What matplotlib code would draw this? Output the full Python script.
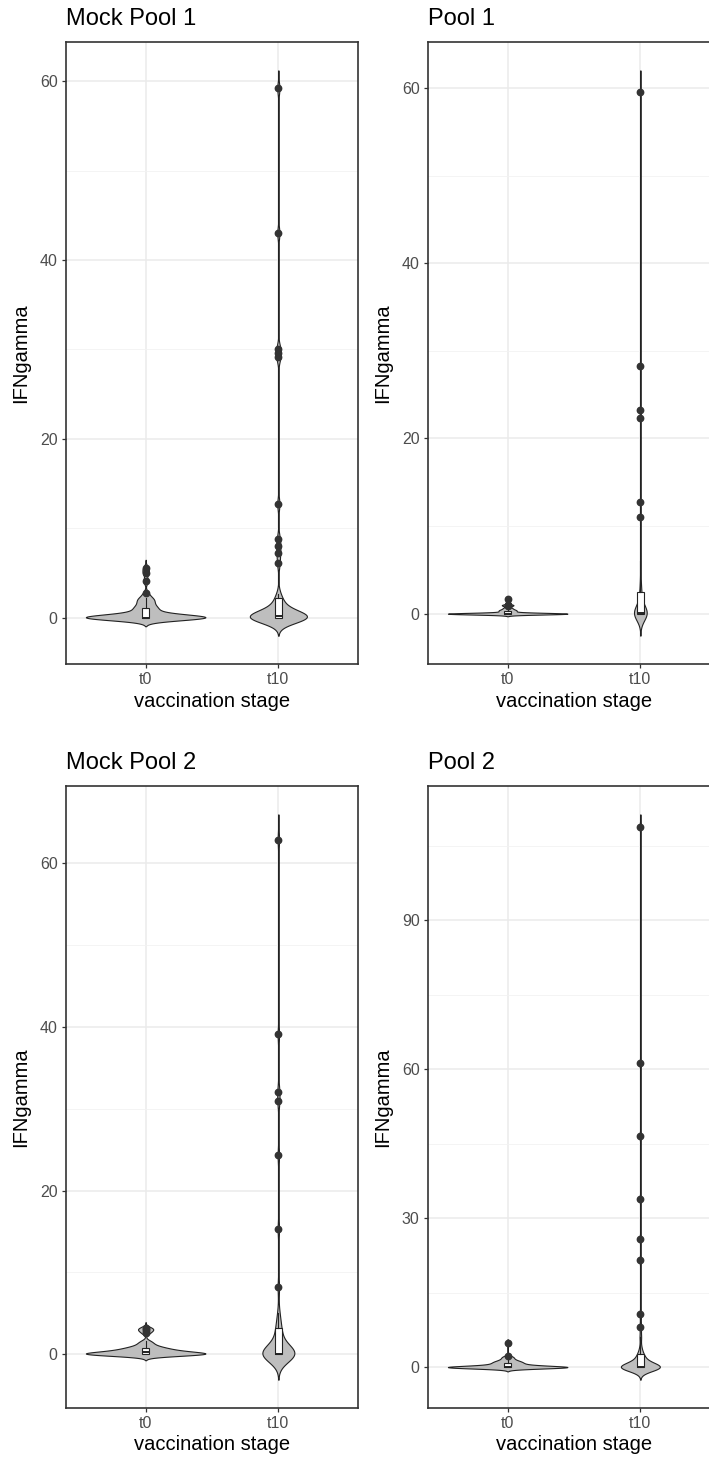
import numpy as np
import matplotlib.pyplot as plt

plt.rcParams['font.family'] = ['Liberation Sans', 'DejaVu Sans']

# stages on the x axis
stages = ['t0', 't10']
panel_titles = ['Mock Pool 1', 'Pool 1', 'Mock Pool 2', 'Pool 2']

# IFNgamma values per panel and stage (read/estimated from the figure)
mock1_t0 = [0] * 24 + [0.1, 0.2, 0.3, 0.4, 0.5, 0.6, 0.8, 1.0, 1.0, 1.1, 1.3, 1.5,
                       1.7, 1.9, 2.1, 2.2, 2.7, 4.1, 5.0, 5.5]
mock1_t10 = [0] * 20 + [0.1, 0.1, 0.2, 0.3, 0.4, 0.5, 0.6, 0.8, 1.0, 1.2, 1.5, 1.8, 2.0, 2.6,
                        6.1, 7.2, 8.0, 8.8, 12.7, 29.1, 29.6, 30.1, 43.0, 59.2]
pool1_t0 = [0] * 27 + [0.1, 0.2, 0.3, 0.3, 0.4, 0.4, 0.5, 0.6, 0.7,
                       0.9, 1.0, 1.0, 1.7]
pool1_t10 = [0] * 17 + [0.1, 0.2, 0.4, 0.6, 0.9, 1.3, 1.8, 2.3, 2.6, 3.8,
                        6.0, 11.0, 12.7, 22.3, 23.3, 28.3, 59.5]
mock2_t0 = [0] * 14 + [0.05, 0.1, 0.1, 0.15, 0.2, 0.2, 0.3, 0.3, 0.35, 0.4, 0.45, 0.5,
                       0.55, 0.6, 0.7, 0.75, 0.8, 0.9, 1.0, 1.2, 1.4, 1.6,
                       2.6, 2.9, 3.1, 3.2]
mock2_t10 = [0] * 19 + [0.1, 0.3, 0.5, 0.8, 1.1, 1.5, 2.0, 2.5, 2.9, 3.3, 4.0, 5.0,
                        8.2, 15.3, 24.3, 31.0, 32.1, 39.1, 62.9]
pool2_t0 = [0] * 17 + [0.05, 0.1, 0.1, 0.15, 0.2, 0.25, 0.3, 0.35, 0.4, 0.5, 0.6, 0.7,
                       0.8, 0.9, 1.0, 1.1, 1.2, 1.3, 1.5, 1.7, 2.0, 2.2, 4.9]
pool2_t10 = [0] * 21 + [0.1, 0.2, 0.3, 0.5, 0.7, 0.9, 1.1, 1.4, 1.7, 2.0, 2.2, 2.5, 3.0, 4.0,
                        6.1, 8.2, 10.7, 21.6, 25.9, 33.9, 46.6, 61.2, 108.9]

panel_data = [(mock1_t0, mock1_t10), (pool1_t0, pool1_t10),
              (mock2_t0, mock2_t10), (pool2_t0, pool2_t10)]
panel_ticks = [[0, 20, 40, 60], [0, 20, 40, 60], [0, 20, 40, 60], [0, 30, 60, 90]]


def nrd0(x):
    sd = x.std(ddof=1)
    q75, q25 = np.percentile(x, [75, 25])
    lo = min(sd, (q75 - q25) / 1.34)
    if lo == 0:
        lo = sd
    return 0.9 * lo * len(x) ** -0.2


def kde(x):
    bw = nrd0(x)
    grid = np.linspace(x.min() - 3 * bw, x.max() + 3 * bw, 1024)
    z = (grid[:, None] - x[None, :]) / bw
    dens = np.exp(-0.5 * z ** 2).sum(axis=1) / (len(x) * bw * np.sqrt(2 * np.pi))
    return grid, dens


fig = plt.figure(figsize=(7.09, 14.58), dpi=100)
W, H = 709, 1458
boxes = [(66, 42), (428, 42), (66, 786), (428, 786)]
aw, ah = 292, 622

for i in range(4):
    x0, y0 = boxes[i]
    ax = fig.add_axes([x0 / W, 1 - (y0 + ah) / H, aw / W, ah / H])
    groups = [np.array(g, float) for g in panel_data[i]]
    kd = [kde(g) for g in groups]
    dmax = max(d.max() for _, d in kd)
    lo_all, hi_all = [], []
    for j, (grid, dens) in enumerate(kd):
        pos = j + 1
        w = dens / dmax * 0.45
        ax.fill_betweenx(grid, pos - w, pos + w, facecolor='#BEBEBE',
                         edgecolor='#222222', linewidth=0.8, zorder=2)
        lo_all.append(grid.min())
        hi_all.append(grid.max())
    ax.boxplot(groups, positions=[1, 2], widths=0.05, patch_artist=True,
               showcaps=False, whis=1.5,
               boxprops=dict(facecolor='white', edgecolor='#222222', linewidth=0.8),
               whiskerprops=dict(color='#222222', linewidth=0.8),
               medianprops=dict(color='#222222', linewidth=1.4),
               flierprops=dict(marker='o', markerfacecolor='#333333',
                               markeredgecolor='#333333', markersize=4.6),
               zorder=3)

    ticks = panel_ticks[i]
    step = ticks[1] - ticks[0]
    ax.set_yticks(ticks)
    ax.set_yticks([t + step / 2 for t in [ticks[0] - step] + ticks], minor=True)
    ax.set_xticks([1, 2])
    ax.set_xticklabels(stages)

    lo, hi = min(lo_all), max(hi_all)
    pad = (hi - lo) * 0.05
    ax.set_ylim(lo - pad, hi + pad)
    ax.set_xlim(0.4, 2.6)

    ax.grid(True, which='major', color='#EBEBEB', linewidth=1.1, zorder=0)
    ax.grid(True, which='minor', axis='y', color='#F2F2F2', linewidth=0.6, zorder=0)
    ax.set_axisbelow(True)
    ax.tick_params(which='minor', length=0)
    ax.tick_params(which='major', length=3, width=0.9, color='#333333',
                   labelcolor='#4D4D4D', labelsize=11.5, pad=3)
    for s in ax.spines.values():
        s.set_color('#333333')
        s.set_linewidth(1.2)
    ax.set_xlabel('vaccination stage', fontsize=14.5, labelpad=3)
    ax.set_ylabel('IFNgamma', fontsize=14.5, labelpad=7)
    ax.set_title(panel_titles[i], loc='left', fontsize=17, pad=12)

fig.savefig('out.png', dpi=100)
